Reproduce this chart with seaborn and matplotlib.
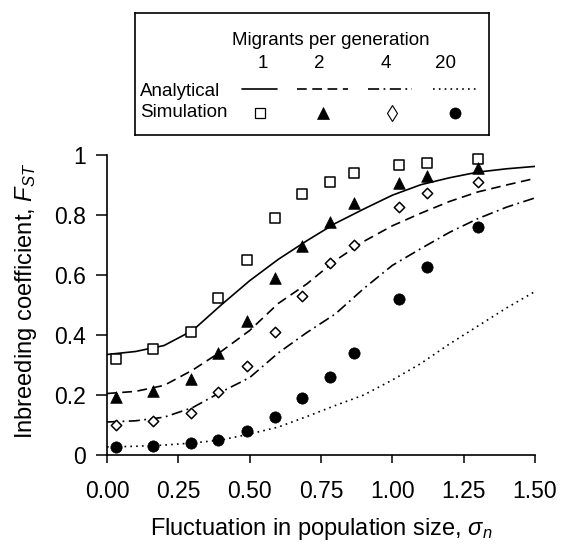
import numpy as np
import pandas as pd
import seaborn as sns
import matplotlib
matplotlib.use("Agg")
import matplotlib.pyplot as plt

# ---------------- data ----------------
migrants = ["1", "2", "4", "20"]

sigma_curve = [0.0, 0.1, 0.2, 0.3, 0.4, 0.5, 0.6, 0.7, 0.8, 0.9, 1.0, 1.1, 1.2, 1.3, 1.4, 1.5]
fst_analytical_1 = [0.335, 0.345, 0.365, 0.415, 0.50, 0.581, 0.652, 0.714, 0.772, 0.820, 0.866, 0.901, 0.924, 0.943, 0.954, 0.962]
fst_analytical_2 = [0.205, 0.212, 0.232, 0.283, 0.345, 0.415, 0.505, 0.570, 0.648, 0.712, 0.764, 0.806, 0.845, 0.877, 0.900, 0.922]
fst_analytical_4 = [0.110, 0.114, 0.126, 0.158, 0.210, 0.258, 0.340, 0.408, 0.470, 0.555, 0.632, 0.688, 0.742, 0.788, 0.826, 0.857]
fst_analytical_20 = [0.027, 0.029, 0.033, 0.040, 0.050, 0.070, 0.093, 0.128, 0.165, 0.200, 0.250, 0.305, 0.370, 0.430, 0.490, 0.545]

sigma_sim = [0.03, 0.16, 0.295, 0.39, 0.49, 0.59, 0.685, 0.78, 0.865, 1.025, 1.12, 1.30]
fst_sim_1 = [0.32, 0.352, 0.411, 0.522, 0.650, 0.789, 0.870, 0.909, 0.941, 0.966, 0.975, 0.986]
fst_sim_2 = [0.194, 0.213, 0.252, 0.341, 0.448, 0.589, 0.697, 0.778, 0.841, 0.906, 0.930, 0.956]
fst_sim_4 = [0.100, 0.114, 0.141, 0.211, 0.297, 0.409, 0.531, 0.639, 0.700, 0.826, 0.872, 0.909]
fst_sim_20 = [0.026, 0.030, 0.039, 0.050, 0.080, 0.128, 0.189, 0.261, 0.341, 0.521, 0.626, 0.759]

x_ticks = [0.0, 0.25, 0.5, 0.75, 1.0, 1.25, 1.5]
x_tick_labels = ["0.00", "0.25", "0.50", "0.75", "1.00", "1.25", "1.50"]
y_ticks = [0.0, 0.2, 0.4, 0.6, 0.8, 1.0]
y_tick_labels = ["0", "0.2", "0.4", "0.6", "0.8", "1"]

# ---------------- style ----------------
sns.set_style("ticks")
plt.rcParams["font.family"] = ["Liberation Sans", "DejaVu Sans"]
plt.rcParams["mathtext.fontset"] = "custom"
plt.rcParams["mathtext.rm"] = "Liberation Sans"
plt.rcParams["mathtext.it"] = "Liberation Sans:italic"
plt.rcParams["text.color"] = "black"
plt.rcParams["axes.labelcolor"] = "black"
plt.rcParams["xtick.color"] = "black"
plt.rcParams["ytick.color"] = "black"
plt.rcParams["lines.scale_dashes"] = False

line_styles = ["-", (0, (7, 4)), (0, (8, 3.2, 1.3, 3.2)), (0, (1.2, 3.0))]
marker_specs = [
    dict(marker="s", s=56, color="white", edgecolor="black", linewidth=1.1),
    dict(marker="^", s=70, color="black", edgecolor="black", linewidth=0.5),
    dict(marker="D", s=28, color="white", edgecolor="black", linewidth=1.1),
    dict(marker="o", s=66, color="black", edgecolor="black", linewidth=0.5),
]

W, H = 561, 544
fig = plt.figure(figsize=(W / 100, H / 100), dpi=100)
ax = fig.add_axes([107 / W, 1 - 455 / H, 428 / W, 300 / H])

analytical = [fst_analytical_1, fst_analytical_2, fst_analytical_4, fst_analytical_20]
simulated = [fst_sim_1, fst_sim_2, fst_sim_4, fst_sim_20]

for fst_line, ls in zip(analytical, line_styles):
    sns.lineplot(x=sigma_curve, y=fst_line, ax=ax, color="black", linewidth=1.2,
                 linestyle=ls, sort=False, estimator=None)

for fst_pts, spec in zip(simulated, marker_specs):
    sns.scatterplot(x=sigma_sim, y=fst_pts, ax=ax, zorder=3, clip_on=False, **spec)

ax.set_xlim(0, 1.5)
ax.set_ylim(0, 1.0)
ax.set_xticks(x_ticks)
ax.set_xticklabels(x_tick_labels)
ax.set_yticks(y_ticks)
ax.set_yticklabels(y_tick_labels)
ax.tick_params(axis="x", direction="out", length=6, width=1.1, pad=12, labelsize=16.5, colors="black")
ax.tick_params(axis="y", direction="out", length=8, width=1.1, pad=7, labelsize=16.5, colors="black")
for side in ["top", "right"]:
    ax.spines[side].set_visible(False)
for side in ["left", "bottom"]:
    ax.spines[side].set_linewidth(1.2)
    ax.spines[side].set_color("black")

ax.set_xlabel(r"Fluctuation in population size, $\sigma_n$", fontsize=17, color="black")
ax.set_ylabel(r"Inbreeding coefficient, $F_{ST}$", fontsize=17, color="black")
ax.xaxis.set_label_coords(0.5, -0.205)
ax.yaxis.set_label_coords(-0.16, 0.513)

# ---------------- legend box ----------------
lx0, lx1, ly0, ly1 = 135, 489, 12.7, 135
lax = fig.add_axes([lx0 / W, 1 - ly1 / H, (lx1 - lx0) / W, (ly1 - ly0) / H])
lax.set_xlim(lx0, lx1)
lax.set_ylim(ly1, ly0)
lax.set_xticks([])
lax.set_yticks([])
for sp in lax.spines.values():
    sp.set_linewidth(1.2)
    sp.set_color("black")
    sp.set_visible(True)
lax.set_facecolor("white")

fs_leg = 13.5
lax.text(331, 45, "Migrants per generation", ha="center", va="baseline", fontsize=fs_leg)
col_x = [263, 319, 386, 446]
line_spans = [(242, 277), (297, 348), (368, 412), (433, 477)]
for cx, lab in zip(col_x, migrants):
    lax.text(cx, 68, lab, ha="center", va="baseline", fontsize=fs_leg)
lax.text(140, 96, "Analytical", ha="left", va="baseline", fontsize=fs_leg)
lax.text(140, 117, "Simulation", ha="left", va="baseline", fontsize=fs_leg)

for (a, b), ls in zip(line_spans, line_styles):
    lax.plot([a, b], [89, 89], color="black", linewidth=1.2, linestyle=ls)

leg_marker_x = [260, 323, 392, 455]
leg_markers = [
    dict(marker="s", markersize=7, markerfacecolor="white", markeredgecolor="black", markeredgewidth=0.9),
    dict(marker="^", markersize=8.5, markerfacecolor="black", markeredgecolor="black", markeredgewidth=0.5),
    dict(marker="d", markersize=8.5, markerfacecolor="white", markeredgecolor="black", markeredgewidth=0.8),
    dict(marker="o", markersize=8, markerfacecolor="black", markeredgecolor="black", markeredgewidth=0.5),
]
for mx, spec in zip(leg_marker_x, leg_markers):
    lax.plot([mx], [113], linestyle="none", **spec)

fig.savefig("out.png", dpi=100)
